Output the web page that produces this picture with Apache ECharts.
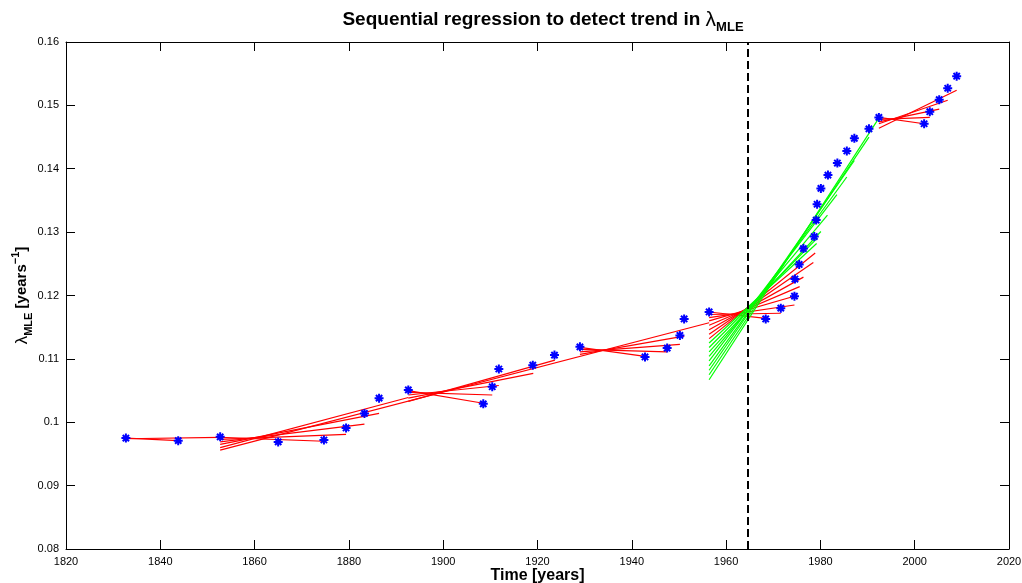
<!DOCTYPE html>
<html><head><meta charset="utf-8">
<script src="https://cdn.jsdelivr.net/npm/echarts@6.0.0/dist/echarts.min.js"></script>
<style>html,body{margin:0;padding:0;background:#fff}#chart{width:1022px;height:583px}</style>
</head><body><div id="chart"></div>
<script>
// Blue asterisks: lambda_MLE estimates over time
const years = [1832.7,1843.8,1852.7,1865.0,1874.7,1879.4,1883.3,1886.4,1892.6,1908.5,1910.4,1911.8,1919.0,1923.6,1929.0,1942.8,1947.5,1950.2,1951.1,1956.4,1968.4,1971.6,1974.5,1974.6,1975.5,1976.4,1978.7,1979.1,1979.3,1980.1,1981.6,1983.6,1985.6,1987.2,1990.3,1992.4,2002.0,2003.2,2005.2,2007.0,2008.9];
const lambdaMLE = [0.0975,0.0971,0.0977,0.0969,0.0972,0.0991,0.1014,0.1038,0.1051,0.1029,0.1056,0.1084,0.1090,0.1106,0.1119,0.1103,0.1117,0.1137,0.1163,0.1174,0.1163,0.1180,0.1199,0.1226,0.1249,0.1274,0.1293,0.1319,0.1344,0.1369,0.1390,0.1409,0.1428,0.1448,0.1463,0.1481,0.1471,0.1490,0.1509,0.1527,0.1546];

// Regression fits: [startYear, startValue, endYear, endValue]
const redFits = [
  [1832.7,0.0974,1852.7,0.0976],
  [1832.7,0.0975,1843.8,0.0971],
  [1852.7,0.0976,1874.7,0.0970],
  [1852.7,0.0973,1879.4,0.0981],
  [1852.7,0.0969,1883.3,0.0997],
  [1852.7,0.0965,1886.4,0.1014],
  [1852.7,0.0960,1892.6,0.1039],
  [1852.7,0.0956,1956.4,0.1157],
  [1892.6,0.1050,1908.5,0.1030],
  [1892.6,0.1047,1910.4,0.1043],
  [1892.6,0.1043,1911.8,0.1058],
  [1892.6,0.1038,1919.1,0.1077],
  [1892.6,0.1033,1923.7,0.1098],
  [1929.0,0.1118,1942.8,0.1104],
  [1929.0,0.1115,1947.5,0.1111],
  [1929.0,0.1111,1950.2,0.1123],
  [1929.0,0.1107,1951.1,0.1136],
  [1956.4,0.1174,1968.4,0.1164],
  [1956.4,0.1170,1971.6,0.1172],
  [1956.4,0.1165,1974.5,0.1185],
  [1956.4,0.1160,1975.0,0.1200],
  [1956.4,0.1153,1975.6,0.1214],
  [1956.4,0.1146,1976.4,0.1229],
  [1956.4,0.1139,1978.5,0.1252],
  [1956.4,0.1132,1978.9,0.1267],
  [1992.4,0.1481,2002.0,0.1471],
  [1992.4,0.1478,2003.2,0.1481],
  [1992.4,0.1474,2005.2,0.1494],
  [1992.4,0.1471,2007.0,0.1508],
  [1992.4,0.1464,2008.9,0.1524]
];
const greenFits = [
  [1956.4,0.1125,1979.2,0.1282],
  [1956.4,0.1118,1979.4,0.1291],
  [1956.4,0.1111,1980.1,0.1301],
  [1956.4,0.1104,1981.5,0.1327],
  [1956.4,0.1097,1983.5,0.1359],
  [1956.4,0.1089,1985.6,0.1387],
  [1956.4,0.1082,1987.2,0.1413],
  [1956.4,0.1075,1990.3,0.1450],
  [1956.4,0.1067,1992.4,0.1480]
];
const breakYear = 1964.5;

const xMin = 1820, xMax = 2020, xStep = 20;
const yMin = 0.08, yMax = 0.16, yStep = 0.01;

const FONT = 'Liberation Sans, Arial, Helvetica, sans-serif';
const chart = echarts.init(document.getElementById('chart'), null, {renderer: 'canvas'});

function axisCommon(showLabels, fmt, margin) {
  return {
    axisLine: {show: true, onZero: false, lineStyle: {color: '#000', width: 1}},
    axisTick: {show: true, inside: true, length: 9, lineStyle: {color: '#000', width: 1}},
    axisLabel: {show: showLabels, color: '#000', fontSize: 11, fontFamily: FONT, formatter: fmt, margin: margin},
    splitLine: {show: false}
  };
}
const fmtX = v => String(Math.round(v));
const fmtY = v => String(+v.toFixed(2));

const asterisk = 'path://M0,-4L0,4M-4,0L4,0M-2.8,-2.8L2.8,2.8M-2.8,2.8L2.8,-2.8';
const toLines = arr => arr.map(f => ({coords: [[f[0], f[1]], [f[2], f[3]]]}));

chart.setOption({
  animation: false,
  backgroundColor: '#fff',
  title: {
    text: 'Sequential regression to detect trend in {lam|λ}{sub|MLE}',
    left: 538,
    textAlign: 'center',
    top: 1,
    textStyle: {
      fontFamily: FONT, fontWeight: 'bold', fontSize: 19, color: '#000', lineHeight: 28,
      rich: {
        lam: {fontFamily: FONT, fontWeight: 'normal', fontSize: 21, color: '#000', lineHeight: 28},
        sub: {fontFamily: FONT, fontWeight: 'bold', fontSize: 13, color: '#000', lineHeight: 13, verticalAlign: 'bottom'}
      }
    }
  },
  grid: {left: 66, right: 13, top: 42, bottom: 34, containLabel: false, outerBoundsMode: 'none'},
  xAxis: [
    Object.assign({
      type: 'value', min: xMin, max: xMax, interval: xStep, position: 'bottom',
      name: 'Time [years]', nameLocation: 'middle', nameGap: 19, nameMoveOverlap: false,
      nameTextStyle: {fontFamily: FONT, fontWeight: 'bold', fontSize: 16, color: '#000'}
    }, axisCommon(true, fmtX, 7)),
    Object.assign({type: 'value', min: xMin, max: xMax, interval: xStep, position: 'top'}, axisCommon(false))
  ],
  yAxis: [
    Object.assign({
      type: 'value', min: yMin, max: yMax, interval: yStep, position: 'left',
      name: '{lam|λ}{sub|MLE}{n| [years}{sup|−1}{n|]}', nameLocation: 'middle', nameGap: 32, nameRotate: 90, nameMoveOverlap: false,
      nameTextStyle: {
        fontFamily: FONT, fontWeight: 'bold', fontSize: 15, color: '#000', lineHeight: 24,
        rich: {
          lam: {fontFamily: FONT, fontWeight: 'normal', fontSize: 17, color: '#000', lineHeight: 24},
          n: {fontFamily: FONT, fontWeight: 'bold', fontSize: 15, color: '#000', lineHeight: 24},
          sub: {fontFamily: FONT, fontWeight: 'bold', fontSize: 11, color: '#000', lineHeight: 11, verticalAlign: 'bottom'},
          sup: {fontFamily: FONT, fontWeight: 'bold', fontSize: 11, color: '#000', lineHeight: 11, verticalAlign: 'top'}
        }
      }
    }, axisCommon(true, fmtY, 7)),
    Object.assign({type: 'value', min: yMin, max: yMax, interval: yStep, position: 'right'}, axisCommon(false))
  ],
  series: [
    {
      type: 'lines', coordinateSystem: 'cartesian2d', xAxisIndex: 0, yAxisIndex: 0,
      data: toLines(redFits), silent: true, z: 2,
      lineStyle: {color: '#ff0000', width: 1.2, opacity: 1}
    },
    {
      type: 'lines', coordinateSystem: 'cartesian2d', xAxisIndex: 0, yAxisIndex: 0,
      data: toLines(greenFits), silent: true, z: 3,
      lineStyle: {color: '#00ff00', width: 1.2, opacity: 1}
    },
    {
      type: 'scatter', xAxisIndex: 0, yAxisIndex: 0, z: 4, silent: true,
      data: years.map((y, i) => [y, lambdaMLE[i]]),
      symbol: asterisk, symbolSize: 9,
      itemStyle: {color: '#0000ff', borderColor: '#0000ff', borderWidth: 2, opacity: 1},
      markLine: {
        silent: true, symbol: 'none', z: 5,
        label: {show: false},
        lineStyle: {color: '#000', width: 2, type: [8, 4]},
        data: [{xAxis: breakYear}]
      }
    }
  ]
});
</script>
</body></html>
